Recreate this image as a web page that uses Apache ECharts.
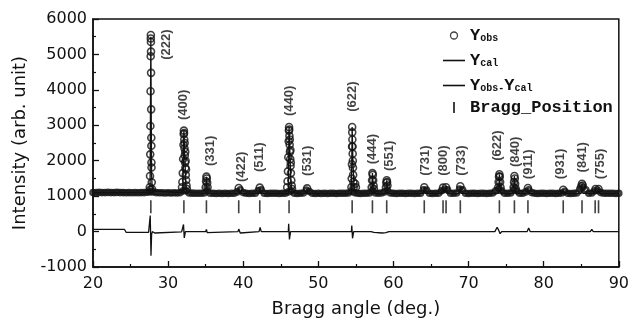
<!DOCTYPE html>
<html>
<head>
<meta charset="utf-8">
<script src="https://cdn.jsdelivr.net/npm/echarts@6/dist/echarts.min.js"></script>
<style>
html,body{margin:0;padding:0;background:#fff;}
#chart{width:632px;height:323px;}
</style>
</head>
<body>
<div id="chart"></div>
<script>
// ---- data ----
// observed pattern: background scan
const observedBase = [
[20.0,1100],[20.4,1100],[20.8,1105],[21.2,1100],[21.6,1100],[22.0,1105],[22.4,1100],[22.8,1100],[23.2,1105],[23.6,1100],
[24.0,1100],[24.4,1095],[24.8,1100],[25.2,1095],[25.6,1100],[26.0,1095],[26.4,1100],[26.8,1100],[27.2,1110],[27.6,1120],
[28.0,1120],[28.4,1100],[28.8,1095],[29.2,1095],[29.6,1090],[30.0,1095],[30.4,1090],[30.8,1095],[31.2,1090],[31.6,1100],
[32.0,1150],[32.4,1150],[32.8,1090],[33.2,1085],[33.6,1080],[34.0,1080],[34.4,1080],[34.8,1090],[35.2,1150],[35.6,1080],
[36.0,1080],[36.4,1075],[36.8,1080],[37.2,1075],[37.6,1080],[38.0,1075],[38.4,1080],[38.8,1080],[39.2,1120],[39.6,1180],
[40.0,1100],[40.4,1080],[40.8,1075],[41.2,1080],[41.6,1080],[42.0,1160],[42.4,1180],[42.8,1080],[43.2,1075],[43.6,1080],
[44.0,1080],[44.4,1080],[44.8,1075],[45.2,1080],[45.6,1080],[46.0,1120],[46.4,1150],[46.8,1080],[47.2,1075],[47.6,1080],
[48.0,1090],[48.4,1170],[48.8,1130],[49.2,1080],[49.6,1075],[50.0,1080],[50.4,1075],[50.8,1080],[51.2,1075],[51.6,1080],
[52.0,1080],[52.4,1075],[52.8,1080],[53.2,1080],[53.6,1080],[54.0,1090],[54.4,1140],[54.8,1100],[55.2,1080],[55.6,1075],
[56.0,1080],[56.4,1080],[56.8,1090],[57.2,1150],[57.6,1090],[58.0,1080],[58.4,1090],[58.8,1120],[59.2,1160],[59.6,1090],
[60.0,1080],[60.4,1075],[60.8,1080],[61.2,1080],[61.6,1075],[62.0,1080],[62.4,1080],[62.8,1075],[63.2,1080],[63.6,1080],
[64.0,1180],[64.4,1170],[64.8,1080],[65.2,1075],[65.6,1080],[66.0,1080],[66.4,1150],[66.8,1190],[67.2,1180],[67.6,1080],
[68.0,1080],[68.4,1090],[68.8,1200],[69.2,1180],[69.6,1080],[70.0,1075],[70.4,1080],[70.8,1080],[71.2,1075],[71.6,1080],
[72.0,1080],[72.4,1075],[72.8,1080],[73.2,1090],[73.6,1150],[74.0,1200],[74.4,1150],[74.8,1080],[75.2,1080],[75.6,1090],
[76.0,1180],[76.4,1150],[76.8,1080],[77.2,1080],[77.6,1120],[78.0,1180],[78.4,1100],[78.8,1080],[79.2,1075],[79.6,1080],
[80.0,1080],[80.4,1075],[80.8,1080],[81.2,1080],[81.6,1075],[82.0,1080],[82.4,1090],[82.8,1140],[83.2,1080],[83.6,1075],
[84.0,1080],[84.4,1090],[84.8,1200],[85.2,1250],[85.6,1180],[86.0,1080],[86.4,1090],[86.8,1150],[87.2,1160],[87.6,1100],
[88.0,1080],[88.4,1080],[88.8,1080],[89.2,1080],[89.6,1075],[90.0,1080]
];
// observed pattern: points on the reflections
const observedPeaks = [
[27.56,1250],[27.59,1570],[27.62,2180],[27.64,2980],[27.66,3960],[27.68,4950],[27.69,5450],[27.70,5550],[27.71,5350],[27.72,5080],
[27.73,4480],[27.745,3450],[27.76,2650],[27.77,2420],[27.78,1950],[27.79,1810],[27.82,1390],[27.6,1180],[27.85,1200],
[31.85,1250],[31.9,1400],[31.95,1650],[32.0,2050],[32.05,2450],[32.08,2750],[32.1,2850],[32.12,2780],[32.15,2600],[32.18,2350],
[32.22,2150],[32.26,1950],[32.3,1800],[32.35,1600],[32.4,1450],[32.45,1300],[32.5,1200],[32.2,2500],[32.28,2250],[32.33,2000],[32.38,1750],
[35.0,1250],[35.05,1420],[35.1,1550],[35.15,1500],[35.2,1380],[35.25,1250],
[39.4,1230],[42.2,1240],[48.5,1220],
[45.85,1250],[45.9,1420],[45.95,1700],[46.0,2100],[46.05,2550],[46.08,2850],[46.1,2950],[46.12,2880],[46.15,2700],[46.18,2450],
[46.22,2250],[46.26,2050],[46.3,1850],[46.35,1650],[46.4,1450],[46.45,1300],[46.5,1200],[46.2,2600],[46.28,2300],[46.33,1950],
[54.4,1250],[54.44,1500],[54.47,1900],[54.49,2400],[54.5,2950],[54.51,2800],[54.53,2600],[54.55,2400],[54.57,2200],[54.59,2000],
[54.61,1800],[54.63,1600],[54.66,1400],[54.7,1250],[54.9,1350],[55.0,1250],
[57.1,1250],[57.15,1450],[57.2,1650],[57.25,1600],[57.3,1450],[57.35,1300],[57.4,1200],
[59.0,1250],[59.05,1380],[59.1,1450],[59.15,1400],[59.2,1300],
[64.1,1250],[66.6,1240],[67.0,1250],[68.9,1280],
[73.95,1250],[74.0,1400],[74.05,1550],[74.1,1620],[74.15,1550],[74.2,1400],[74.25,1250],
[76.0,1250],[76.05,1400],[76.1,1570],[76.15,1500],[76.2,1350],[76.25,1220],
[77.9,1230],[82.6,1180],[85.0,1280],[85.1,1350],[85.2,1300],[86.9,1200],[87.3,1200]
];
const calculated = [
[20,1100],[27.5,1100],[27.6,1300],[27.65,3500],[27.7,5500],[27.75,3400],[27.8,1600],[27.9,1150],[28.0,1100],
[31.9,1090],[32.0,1600],[32.1,2850],[32.2,2200],[32.35,1400],[32.5,1100],
[35.0,1080],[35.1,1550],[35.2,1200],[35.3,1080],[39.3,1080],[39.4,1220],[39.5,1080],[42.1,1080],[42.2,1230],[42.3,1080],
[46.0,1080],[46.05,2000],[46.1,2950],[46.2,2300],[46.35,1400],[46.5,1090],[48.4,1080],[48.5,1200],[48.6,1080],
[54.4,1080],[54.45,2000],[54.5,2950],[54.6,2000],[54.75,1250],[54.9,1090],
[57.1,1080],[57.2,1650],[57.3,1300],[57.4,1080],[59.0,1080],[59.1,1450],[59.2,1200],[59.3,1080],
[64.0,1080],[64.1,1250],[64.2,1080],[66.5,1080],[66.6,1230],[66.8,1100],[67.0,1240],[67.1,1080],[68.8,1080],[68.9,1270],[69.0,1080],
[74.0,1080],[74.1,1620],[74.2,1300],[74.3,1080],[76.0,1080],[76.1,1570],[76.2,1250],[76.3,1080],
[77.8,1080],[77.9,1230],[78.0,1080],[82.5,1080],[82.6,1180],[82.7,1080],[85.0,1080],[85.1,1350],[85.2,1080],
[86.8,1080],[86.9,1190],[87.0,1080],[87.2,1080],[87.3,1190],[87.4,1080],[90,1080]
];
const difference = [
[20,60],[24.2,60],[24.4,-20],[27.4,-20],[27.55,0],[27.62,450],[27.72,-680],[27.8,-80],[27.9,0],[28.2,-40],[31.8,-10],
[32.0,0],[32.05,200],[32.15,-180],[32.3,0],[35.0,0],[35.1,60],[35.2,-30],[35.3,0],[39.3,0],[39.4,70],[39.6,-40],[39.8,0],
[42.1,0],[42.25,120],[42.4,0],[46.0,0],[46.05,220],[46.15,-220],[46.3,0],[54.4,0],[54.45,170],[54.55,-190],[54.7,0],
[57.0,0],[57.2,-50],[57.4,-20],[58.5,-40],[59.0,-30],[59.2,-60],[59.4,0],[73.5,0],[73.8,120],[74.0,40],[74.2,-60],[74.4,0],
[76.0,0],[76.2,-50],[76.4,0],[77.8,0],[78.0,100],[78.2,0],[86.2,0],[86.4,60],[86.6,0],[90,0]
];
const braggPositions = [27.7,32.1,35.1,39.4,42.2,46.1,54.5,57.2,59.1,64.1,66.6,67.0,68.9,74.1,76.1,77.9,82.6,85.1,86.85,87.3];
const braggLevel = 700;
const hklLabels = ['(222)','(400)','(331)','(422)','(511)','(440)','(531)','(622)','(444)','(551)','(731)','(800)','(733)','(622)','(840)','(911)','(931)','(841)','(755)'];
const hklAngle  = [29.8,32.1,35.6,39.7,42.2,46.2,48.6,54.5,57.2,59.4,64.2,66.6,69.0,73.9,76.3,78.0,82.2,85.1,87.5];
const hklBase   = [4850,3150,1850,1400,1680,3260,1570,3380,1900,1710,1575,1575,1575,2000,1820,1480,1480,1670,1480];
const seriesNames = ['Yobs','Ycal','Yobs-Ycal','Bragg_Position'];

const chart = echarts.init(document.getElementById('chart'));
const ink = '#111';
const sans = 'DejaVu Sans';
const mono = 'Liberation Mono';
const legendRich = {
  m: {fontFamily: mono, fontWeight: 'bold', fontSize: 17, color: ink, lineHeight: 16},
  s: {fontFamily: mono, fontWeight: 'bold', fontSize: 10, color: ink, lineHeight: 16, padding: [6,0,0,0]}
};
const legendText = {
  'Yobs': '{m|Y}{s|obs}',
  'Ycal': '{m|Y}{s|cal}',
  'Yobs-Ycal': '{m|Y}{s|obs-}{m|Y}{s|cal}',
  'Bragg_Position': '{m|Bragg_Position}'
};
const lineIcon = 'path://M0,0L22,0L22,1.6L0,1.6Z';

chart.setOption({
  animation: false,
  backgroundColor: '#fff',
  grid: {left: 93, right: 7, top: 19, bottom: 55, show: true, borderColor: ink, borderWidth: 1.5},
  legend: [{
    orient: 'vertical', left: 443, top: 27, padding: 0, itemWidth: 22, itemHeight: 7, itemGap: 8, itemTextGap: 8,
    selectedMode: false,
    data: [
      {name: seriesNames[0], icon: 'circle', itemStyle: {color: 'rgba(0,0,0,0)', borderColor: ink, borderWidth: 1.3}},
      {name: seriesNames[1], icon: lineIcon, itemStyle: {color: ink}},
      {name: seriesNames[2], icon: lineIcon, itemStyle: {color: ink}}
    ],
    formatter: n => legendText[n],
    textStyle: {rich: legendRich}
  }, {
    orient: 'vertical', left: 453, top: 99, padding: 0, itemWidth: 22, itemHeight: 11, itemTextGap: 8,
    selectedMode: false,
    data: [{name: seriesNames[3], icon: 'path://M0,0L2,0L2,11L0,11Z', itemStyle: {color: ink}}],
    formatter: n => legendText[n],
    textStyle: {rich: legendRich}
  }],
  xAxis: {
    type: 'value', min: 20, max: 90, interval: 10,
    name: 'Bragg angle (deg.)', nameLocation: 'middle', nameGap: 33,
    nameTextStyle: {fontFamily: sans, fontSize: 18, color: ink},
    axisLine: {onZero: false, lineStyle: {color: ink, width: 1.5}},
    axisTick: {inside: true, length: 6, lineStyle: {color: ink, width: 1.3}},
    minorTick: {show: true, splitNumber: 2, length: 3, lineStyle: {color: ink, width: 1.2}},
    axisLabel: {fontFamily: sans, fontSize: 16, color: ink, margin: 9},
    splitLine: {show: false}
  },
  yAxis: {
    type: 'value', min: -1000, max: 6000, interval: 1000,
    name: 'Intensity (arb. unit)', nameLocation: 'middle', nameGap: 62,
    nameTextStyle: {fontFamily: sans, fontSize: 18, color: ink},
    axisLine: {show: true, lineStyle: {color: ink, width: 1.5}},
    axisTick: {inside: true, length: 6, lineStyle: {color: ink, width: 1.3}},
    minorTick: {show: true, splitNumber: 2, length: 3, lineStyle: {color: ink, width: 1.2}},
    axisLabel: {fontFamily: sans, fontSize: 16, color: ink, margin: 6, formatter: v => String(v)},
    splitLine: {show: false}
  },
  series: [
    {
      name: seriesNames[0], type: 'scatter', symbol: 'circle', symbolSize: 5,
      data: observedBase,
      itemStyle: {color: 'rgba(0,0,0,0)', borderColor: ink, borderWidth: 2.6},
      z: 2, silent: true
    },
    {
      name: seriesNames[0], type: 'scatter', symbol: 'circle', symbolSize: 7,
      data: observedPeaks,
      itemStyle: {color: 'rgba(0,0,0,0)', borderColor: ink, borderWidth: 1.6},
      z: 2, silent: true
    },
    {
      name: seriesNames[1], type: 'line', symbol: 'none', data: calculated,
      lineStyle: {color: ink, width: 1.3}, itemStyle: {color: ink}, z: 3, silent: true
    },
    {
      name: seriesNames[2], type: 'line', symbol: 'none', data: difference,
      lineStyle: {color: ink, width: 1.3}, itemStyle: {color: ink}, z: 3, silent: true
    },
    {
      name: seriesNames[3], type: 'scatter', symbol: 'rect', symbolSize: [1.6, 13],
      data: braggPositions.map(a => [a, braggLevel]),
      itemStyle: {color: ink}, z: 3, silent: true
    },
    {
      name: 'hkl', type: 'scatter', symbolSize: 0, silent: true, z: 5,
      data: hklLabels.map((t, i) => [hklAngle[i], hklBase[i], t]),
      label: {
        show: true, formatter: p => p.data[2], rotate: 90, position: [0, 0],
        align: 'left', verticalAlign: 'middle',
        fontFamily: 'Liberation Sans', fontWeight: 'bold', fontSize: 13, color: ink
      }
    }
  ]
});
</script>
</body>
</html>
